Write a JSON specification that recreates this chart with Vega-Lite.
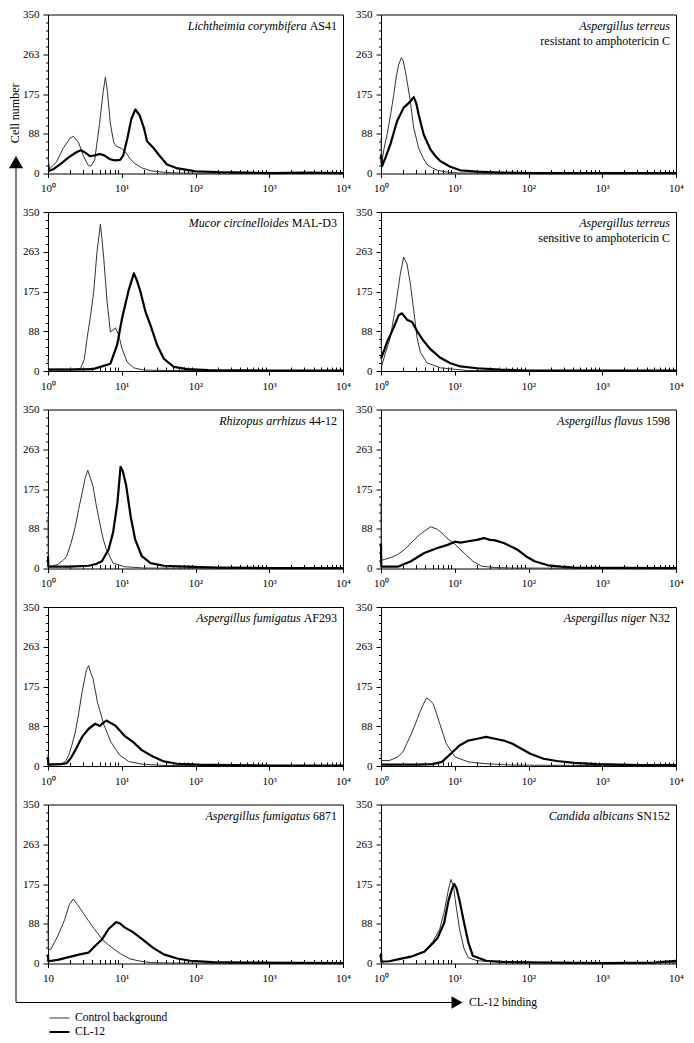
{
  "$schema": "https://vega.github.io/schema/vega-lite/v6.json",
  "background": "white",
  "padding": {"left": 0, "top": 7.5, "right": 0, "bottom": 0},
  "bounds": "flush",
  "spacing": 16,
  "datasets": {
    "titles": [
      {"p": 1, "it": "Lichtheimia corymbifera", "rg": "AS41"},
      {"p": 2, "it": "Aspergillus terreus", "rg": "resistant to amphotericin C"},
      {"p": 3, "it": "Mucor circinelloides", "rg": "MAL-D3"},
      {"p": 4, "it": "Aspergillus terreus", "rg": "sensitive to amphotericin C"},
      {"p": 5, "it": "Rhizopus arrhizus", "rg": "44-12"},
      {"p": 6, "it": "Aspergillus flavus", "rg": "1598"},
      {"p": 7, "it": "Aspergillus fumigatus", "rg": "AF293"},
      {"p": 8, "it": "Aspergillus niger", "rg": "N32"},
      {"p": 9, "it": "Aspergillus fumigatus", "rg": "6871"},
      {"p": 10, "it": "Candida albicans", "rg": "SN152"}
    ],
    "curves": [
      {"p":1,"s":"c","x":1,"y":34},{"p":1,"s":"c","x":1.05,"y":10},{"p":1,"s":"c","x":1.3,"y":25},{"p":1,"s":"c","x":1.6,"y":55},{"p":1,"s":"c","x":2.0,"y":78},{"p":1,"s":"c","x":2.2,"y":82},{"p":1,"s":"c","x":2.6,"y":68},{"p":1,"s":"c","x":3.0,"y":40},{"p":1,"s":"c","x":3.5,"y":18},{"p":1,"s":"c","x":3.8,"y":16},{"p":1,"s":"c","x":4.3,"y":30},{"p":1,"s":"c","x":5.0,"y":110},{"p":1,"s":"c","x":5.6,"y":180},{"p":1,"s":"c","x":6.0,"y":212},{"p":1,"s":"c","x":6.4,"y":180},{"p":1,"s":"c","x":7.0,"y":110},{"p":1,"s":"c","x":7.8,"y":68},{"p":1,"s":"c","x":8.5,"y":60},{"p":1,"s":"c","x":10,"y":55},{"p":1,"s":"c","x":11.5,"y":45},{"p":1,"s":"c","x":13,"y":32},{"p":1,"s":"c","x":15,"y":22},{"p":1,"s":"c","x":19,"y":12},{"p":1,"s":"c","x":25,"y":6},{"p":1,"s":"c","x":35,"y":3},{"p":1,"s":"c","x":60,"y":1},{"p":1,"s":"c","x":10000,"y":0},
      {"p":1,"s":"k","x":1,"y":5},{"p":1,"s":"k","x":1.2,"y":10},{"p":1,"s":"k","x":1.5,"y":22},{"p":1,"s":"k","x":2.0,"y":38},{"p":1,"s":"k","x":2.5,"y":48},{"p":1,"s":"k","x":2.8,"y":51},{"p":1,"s":"k","x":3.2,"y":46},{"p":1,"s":"k","x":3.7,"y":38},{"p":1,"s":"k","x":4.3,"y":40},{"p":1,"s":"k","x":5.0,"y":43},{"p":1,"s":"k","x":5.8,"y":40},{"p":1,"s":"k","x":6.8,"y":32},{"p":1,"s":"k","x":8.0,"y":29},{"p":1,"s":"k","x":9.5,"y":30},{"p":1,"s":"k","x":10.5,"y":40},{"p":1,"s":"k","x":12,"y":80},{"p":1,"s":"k","x":13.5,"y":120},{"p":1,"s":"k","x":15.3,"y":141},{"p":1,"s":"k","x":17.5,"y":128},{"p":1,"s":"k","x":20,"y":100},{"p":1,"s":"k","x":22,"y":71},{"p":1,"s":"k","x":27,"y":56},{"p":1,"s":"k","x":33,"y":38},{"p":1,"s":"k","x":41,"y":20},{"p":1,"s":"k","x":55,"y":12},{"p":1,"s":"k","x":77,"y":8},{"p":1,"s":"k","x":100,"y":5},{"p":1,"s":"k","x":200,"y":3},{"p":1,"s":"k","x":500,"y":2},{"p":1,"s":"k","x":1000,"y":1},{"p":1,"s":"k","x":3000,"y":2},{"p":1,"s":"k","x":10000,"y":1},
      {"p":2,"s":"c","x":1,"y":78},{"p":2,"s":"c","x":1.02,"y":20},{"p":2,"s":"c","x":1.1,"y":55},{"p":2,"s":"c","x":1.21,"y":86},{"p":2,"s":"c","x":1.35,"y":130},{"p":2,"s":"c","x":1.49,"y":174},{"p":2,"s":"c","x":1.62,"y":215},{"p":2,"s":"c","x":1.74,"y":240},{"p":2,"s":"c","x":1.89,"y":255},{"p":2,"s":"c","x":2.0,"y":248},{"p":2,"s":"c","x":2.14,"y":225},{"p":2,"s":"c","x":2.3,"y":195},{"p":2,"s":"c","x":2.5,"y":159},{"p":2,"s":"c","x":2.78,"y":100},{"p":2,"s":"c","x":3.24,"y":56},{"p":2,"s":"c","x":3.7,"y":35},{"p":2,"s":"c","x":4.2,"y":20},{"p":2,"s":"c","x":5.0,"y":12},{"p":2,"s":"c","x":5.8,"y":7},{"p":2,"s":"c","x":7.9,"y":3},{"p":2,"s":"c","x":12,"y":1},{"p":2,"s":"c","x":10000,"y":0},
      {"p":2,"s":"k","x":1,"y":42},{"p":2,"s":"k","x":1.03,"y":16},{"p":2,"s":"k","x":1.15,"y":35},{"p":2,"s":"k","x":1.34,"y":64},{"p":2,"s":"k","x":1.5,"y":92},{"p":2,"s":"k","x":1.65,"y":115},{"p":2,"s":"k","x":2.03,"y":145},{"p":2,"s":"k","x":2.37,"y":155},{"p":2,"s":"k","x":2.6,"y":162},{"p":2,"s":"k","x":2.78,"y":168},{"p":2,"s":"k","x":3.0,"y":155},{"p":2,"s":"k","x":3.24,"y":130},{"p":2,"s":"k","x":3.5,"y":108},{"p":2,"s":"k","x":3.79,"y":86},{"p":2,"s":"k","x":4.67,"y":53},{"p":2,"s":"k","x":5.5,"y":38},{"p":2,"s":"k","x":6.4,"y":27},{"p":2,"s":"k","x":8.7,"y":15},{"p":2,"s":"k","x":11.9,"y":7},{"p":2,"s":"k","x":20,"y":4},{"p":2,"s":"k","x":42,"y":2},{"p":2,"s":"k","x":100,"y":1},{"p":2,"s":"k","x":10000,"y":1},
      {"p":3,"s":"c","x":1,"y":27},{"p":3,"s":"c","x":1.02,"y":4},{"p":3,"s":"c","x":1.5,"y":4},{"p":3,"s":"c","x":2.0,"y":4},{"p":3,"s":"c","x":2.75,"y":5},{"p":3,"s":"c","x":3.1,"y":25},{"p":3,"s":"c","x":3.38,"y":71},{"p":3,"s":"c","x":3.8,"y":125},{"p":3,"s":"c","x":4.17,"y":175},{"p":3,"s":"c","x":4.62,"y":263},{"p":3,"s":"c","x":5.13,"y":323},{"p":3,"s":"c","x":5.4,"y":290},{"p":3,"s":"c","x":5.7,"y":248},{"p":3,"s":"c","x":6.32,"y":153},{"p":3,"s":"c","x":7.02,"y":86},{"p":3,"s":"c","x":7.6,"y":90},{"p":3,"s":"c","x":8.2,"y":95},{"p":3,"s":"c","x":9.1,"y":79},{"p":3,"s":"c","x":10.1,"y":49},{"p":3,"s":"c","x":11.8,"y":20},{"p":3,"s":"c","x":14.5,"y":7},{"p":3,"s":"c","x":20,"y":2},{"p":3,"s":"c","x":40,"y":1},{"p":3,"s":"c","x":10000,"y":0},
      {"p":3,"s":"k","x":1,"y":3},{"p":3,"s":"k","x":2,"y":3},{"p":3,"s":"k","x":4,"y":4},{"p":3,"s":"k","x":5.13,"y":9},{"p":3,"s":"k","x":7.02,"y":16},{"p":3,"s":"k","x":8.64,"y":57},{"p":3,"s":"k","x":10.1,"y":116},{"p":3,"s":"k","x":12.4,"y":178},{"p":3,"s":"k","x":14.6,"y":215},{"p":3,"s":"k","x":16,"y":200},{"p":3,"s":"k","x":17.9,"y":175},{"p":3,"s":"k","x":21,"y":130},{"p":3,"s":"k","x":24.5,"y":101},{"p":3,"s":"k","x":30.2,"y":57},{"p":3,"s":"k","x":37.2,"y":27},{"p":3,"s":"k","x":50.8,"y":9},{"p":3,"s":"k","x":77,"y":4},{"p":3,"s":"k","x":150,"y":2},{"p":3,"s":"k","x":1000,"y":1},{"p":3,"s":"k","x":10000,"y":1},
      {"p":4,"s":"c","x":1,"y":81},{"p":4,"s":"c","x":1.02,"y":11},{"p":4,"s":"c","x":1.15,"y":40},{"p":4,"s":"c","x":1.34,"y":74},{"p":4,"s":"c","x":1.57,"y":140},{"p":4,"s":"c","x":1.83,"y":214},{"p":4,"s":"c","x":2.03,"y":251},{"p":4,"s":"c","x":2.25,"y":236},{"p":4,"s":"c","x":2.5,"y":192},{"p":4,"s":"c","x":2.78,"y":133},{"p":4,"s":"c","x":3.08,"y":74},{"p":4,"s":"c","x":3.42,"y":41},{"p":4,"s":"c","x":4.21,"y":18},{"p":4,"s":"c","x":6.4,"y":7},{"p":4,"s":"c","x":9.7,"y":4},{"p":4,"s":"c","x":15,"y":1},{"p":4,"s":"c","x":10000,"y":0},
      {"p":4,"s":"k","x":1,"y":27},{"p":4,"s":"k","x":1.1,"y":45},{"p":4,"s":"k","x":1.21,"y":64},{"p":4,"s":"k","x":1.49,"y":96},{"p":4,"s":"k","x":1.74,"y":123},{"p":4,"s":"k","x":1.93,"y":127},{"p":4,"s":"k","x":2.25,"y":113},{"p":4,"s":"k","x":2.64,"y":108},{"p":4,"s":"k","x":3.08,"y":88},{"p":4,"s":"k","x":3.79,"y":66},{"p":4,"s":"k","x":4.67,"y":48},{"p":4,"s":"k","x":6.39,"y":29},{"p":4,"s":"k","x":8.73,"y":17},{"p":4,"s":"k","x":11.9,"y":10},{"p":4,"s":"k","x":20,"y":6},{"p":4,"s":"k","x":41.7,"y":3},{"p":4,"s":"k","x":96,"y":1},{"p":4,"s":"k","x":10000,"y":1},
      {"p":5,"s":"c","x":1,"y":115},{"p":5,"s":"c","x":1.01,"y":5},{"p":5,"s":"c","x":1.15,"y":5},{"p":5,"s":"c","x":1.36,"y":9},{"p":5,"s":"c","x":1.6,"y":18},{"p":5,"s":"c","x":1.79,"y":27},{"p":5,"s":"c","x":2.05,"y":55},{"p":5,"s":"c","x":2.35,"y":93},{"p":5,"s":"c","x":2.6,"y":130},{"p":5,"s":"c","x":2.9,"y":166},{"p":5,"s":"c","x":3.2,"y":200},{"p":5,"s":"c","x":3.46,"y":216},{"p":5,"s":"c","x":3.75,"y":200},{"p":5,"s":"c","x":4.09,"y":180},{"p":5,"s":"c","x":4.5,"y":140},{"p":5,"s":"c","x":5.03,"y":100},{"p":5,"s":"c","x":5.6,"y":65},{"p":5,"s":"c","x":6.19,"y":42},{"p":5,"s":"c","x":7.62,"y":12},{"p":5,"s":"c","x":10.8,"y":4},{"p":5,"s":"c","x":20,"y":1},{"p":5,"s":"c","x":10000,"y":0},
      {"p":5,"s":"k","x":1,"y":27},{"p":5,"s":"k","x":1.01,"y":4},{"p":5,"s":"k","x":2,"y":4},{"p":5,"s":"k","x":3.56,"y":6},{"p":5,"s":"k","x":4.5,"y":10},{"p":5,"s":"k","x":5.39,"y":16},{"p":5,"s":"k","x":6.63,"y":42},{"p":5,"s":"k","x":7.62,"y":79},{"p":5,"s":"k","x":8.74,"y":145},{"p":5,"s":"k","x":9.63,"y":224},{"p":5,"s":"k","x":10.3,"y":215},{"p":5,"s":"k","x":11.5,"y":182},{"p":5,"s":"k","x":13.2,"y":115},{"p":5,"s":"k","x":15.2,"y":64},{"p":5,"s":"k","x":18.7,"y":27},{"p":5,"s":"k","x":24.6,"y":12},{"p":5,"s":"k","x":37.2,"y":6},{"p":5,"s":"k","x":74,"y":4},{"p":5,"s":"k","x":200,"y":2},{"p":5,"s":"k","x":1000,"y":1},{"p":5,"s":"k","x":10000,"y":1},
      {"p":6,"s":"c","x":1,"y":145},{"p":6,"s":"c","x":1.01,"y":18},{"p":6,"s":"c","x":1.12,"y":20},{"p":6,"s":"c","x":1.4,"y":25},{"p":6,"s":"c","x":1.69,"y":31},{"p":6,"s":"c","x":2.1,"y":42},{"p":6,"s":"c","x":2.55,"y":56},{"p":6,"s":"c","x":3.2,"y":72},{"p":6,"s":"c","x":3.86,"y":82},{"p":6,"s":"c","x":4.75,"y":92},{"p":6,"s":"c","x":5.84,"y":86},{"p":6,"s":"c","x":6.7,"y":78},{"p":6,"s":"c","x":7.69,"y":68},{"p":6,"s":"c","x":10.1,"y":53},{"p":6,"s":"c","x":13.4,"y":34},{"p":6,"s":"c","x":17.6,"y":16},{"p":6,"s":"c","x":23.2,"y":5},{"p":6,"s":"c","x":35,"y":2},{"p":6,"s":"c","x":60,"y":1},{"p":6,"s":"c","x":10000,"y":0},
      {"p":6,"s":"k","x":1,"y":55},{"p":6,"s":"k","x":1.01,"y":4},{"p":6,"s":"k","x":1.69,"y":4},{"p":6,"s":"k","x":2.55,"y":16},{"p":6,"s":"k","x":3.86,"y":34},{"p":6,"s":"k","x":5.84,"y":45},{"p":6,"s":"k","x":8,"y":52},{"p":6,"s":"k","x":10.1,"y":59},{"p":6,"s":"k","x":12,"y":57},{"p":6,"s":"k","x":15.3,"y":60},{"p":6,"s":"k","x":20,"y":63},{"p":6,"s":"k","x":24.8,"y":67},{"p":6,"s":"k","x":30,"y":63},{"p":6,"s":"k","x":35.1,"y":62},{"p":6,"s":"k","x":46.2,"y":56},{"p":6,"s":"k","x":70,"y":42},{"p":6,"s":"k","x":92,"y":27},{"p":6,"s":"k","x":121,"y":16},{"p":6,"s":"k","x":183,"y":7},{"p":6,"s":"k","x":277,"y":4},{"p":6,"s":"k","x":420,"y":2},{"p":6,"s":"k","x":10000,"y":1},
      {"p":7,"s":"c","x":1,"y":26},{"p":7,"s":"c","x":1.01,"y":4},{"p":7,"s":"c","x":1.3,"y":4},{"p":7,"s":"c","x":1.56,"y":5},{"p":7,"s":"c","x":1.75,"y":12},{"p":7,"s":"c","x":1.91,"y":24},{"p":7,"s":"c","x":2.1,"y":45},{"p":7,"s":"c","x":2.35,"y":75},{"p":7,"s":"c","x":2.6,"y":115},{"p":7,"s":"c","x":2.9,"y":163},{"p":7,"s":"c","x":3.32,"y":211},{"p":7,"s":"c","x":3.56,"y":221},{"p":7,"s":"c","x":3.8,"y":205},{"p":7,"s":"c","x":4.09,"y":192},{"p":7,"s":"c","x":4.69,"y":140},{"p":7,"s":"c","x":5.78,"y":89},{"p":7,"s":"c","x":7.11,"y":53},{"p":7,"s":"c","x":9.37,"y":24},{"p":7,"s":"c","x":12.4,"y":10},{"p":7,"s":"c","x":18.7,"y":4},{"p":7,"s":"c","x":40,"y":1},{"p":7,"s":"c","x":10000,"y":0},
      {"p":7,"s":"k","x":1,"y":20},{"p":7,"s":"k","x":1.01,"y":3},{"p":7,"s":"k","x":1.5,"y":4},{"p":7,"s":"k","x":1.79,"y":6},{"p":7,"s":"k","x":2.05,"y":18},{"p":7,"s":"k","x":2.35,"y":35},{"p":7,"s":"k","x":2.9,"y":64},{"p":7,"s":"k","x":3.56,"y":82},{"p":7,"s":"k","x":4.38,"y":93},{"p":7,"s":"k","x":5.03,"y":88},{"p":7,"s":"k","x":5.6,"y":95},{"p":7,"s":"k","x":6.19,"y":100},{"p":7,"s":"k","x":7,"y":95},{"p":7,"s":"k","x":8.16,"y":89},{"p":7,"s":"k","x":10.8,"y":67},{"p":7,"s":"k","x":14.2,"y":53},{"p":7,"s":"k","x":18.7,"y":35},{"p":7,"s":"k","x":26.4,"y":21},{"p":7,"s":"k","x":37.2,"y":10},{"p":7,"s":"k","x":56,"y":5},{"p":7,"s":"k","x":112,"y":3},{"p":7,"s":"k","x":300,"y":2},{"p":7,"s":"k","x":1000,"y":1},{"p":7,"s":"k","x":10000,"y":1},
      {"p":8,"s":"c","x":1,"y":27},{"p":8,"s":"c","x":1.01,"y":12},{"p":8,"s":"c","x":1.3,"y":12},{"p":8,"s":"c","x":1.69,"y":20},{"p":8,"s":"c","x":2.0,"y":32},{"p":8,"s":"c","x":2.23,"y":49},{"p":8,"s":"c","x":2.6,"y":72},{"p":8,"s":"c","x":2.93,"y":93},{"p":8,"s":"c","x":3.3,"y":115},{"p":8,"s":"c","x":3.61,"y":130},{"p":8,"s":"c","x":4.14,"y":150},{"p":8,"s":"c","x":4.6,"y":145},{"p":8,"s":"c","x":5.09,"y":137},{"p":8,"s":"c","x":5.6,"y":118},{"p":8,"s":"c","x":6.26,"y":93},{"p":8,"s":"c","x":7.69,"y":49},{"p":8,"s":"c","x":10.1,"y":20},{"p":8,"s":"c","x":15.3,"y":9},{"p":8,"s":"c","x":26.6,"y":5},{"p":8,"s":"c","x":60,"y":2},{"p":8,"s":"c","x":10000,"y":0},
      {"p":8,"s":"k","x":1,"y":3},{"p":8,"s":"k","x":3,"y":3},{"p":8,"s":"k","x":5,"y":4},{"p":8,"s":"k","x":6.7,"y":9},{"p":8,"s":"k","x":8.83,"y":27},{"p":8,"s":"k","x":11.6,"y":45},{"p":8,"s":"k","x":15.3,"y":56},{"p":8,"s":"k","x":20.2,"y":60},{"p":8,"s":"k","x":26.6,"y":64},{"p":8,"s":"k","x":35.1,"y":60},{"p":8,"s":"k","x":46.2,"y":56},{"p":8,"s":"k","x":60.8,"y":49},{"p":8,"s":"k","x":80,"y":38},{"p":8,"s":"k","x":106,"y":27},{"p":8,"s":"k","x":160,"y":16},{"p":8,"s":"k","x":242,"y":11},{"p":8,"s":"k","x":420,"y":7},{"p":8,"s":"k","x":836,"y":4},{"p":8,"s":"k","x":3320,"y":2},{"p":8,"s":"k","x":10000,"y":2},
      {"p":9,"s":"c","x":1,"y":98},{"p":9,"s":"c","x":1.01,"y":30},{"p":9,"s":"c","x":1.1,"y":32},{"p":9,"s":"c","x":1.36,"y":61},{"p":9,"s":"c","x":1.67,"y":95},{"p":9,"s":"c","x":1.95,"y":130},{"p":9,"s":"c","x":2.2,"y":142},{"p":9,"s":"c","x":2.5,"y":130},{"p":9,"s":"c","x":2.9,"y":115},{"p":9,"s":"c","x":3.5,"y":95},{"p":9,"s":"c","x":4.3,"y":75},{"p":9,"s":"c","x":5.5,"y":52},{"p":9,"s":"c","x":7.2,"y":36},{"p":9,"s":"c","x":9.5,"y":22},{"p":9,"s":"c","x":13,"y":10},{"p":9,"s":"c","x":18,"y":5},{"p":9,"s":"c","x":25,"y":2},{"p":9,"s":"c","x":50,"y":1},{"p":9,"s":"c","x":10000,"y":0},
      {"p":9,"s":"k","x":1,"y":20},{"p":9,"s":"k","x":1.01,"y":5},{"p":9,"s":"k","x":1.36,"y":8},{"p":9,"s":"k","x":1.79,"y":13},{"p":9,"s":"k","x":2.7,"y":20},{"p":9,"s":"k","x":3.56,"y":24},{"p":9,"s":"k","x":4.38,"y":39},{"p":9,"s":"k","x":5.39,"y":53},{"p":9,"s":"k","x":6.63,"y":76},{"p":9,"s":"k","x":8.39,"y":91},{"p":9,"s":"k","x":9.5,"y":88},{"p":9,"s":"k","x":10.8,"y":80},{"p":9,"s":"k","x":14.2,"y":69},{"p":9,"s":"k","x":18.7,"y":54},{"p":9,"s":"k","x":26.4,"y":35},{"p":9,"s":"k","x":37.2,"y":20},{"p":9,"s":"k","x":56.4,"y":11},{"p":9,"s":"k","x":85,"y":6},{"p":9,"s":"k","x":170,"y":3},{"p":9,"s":"k","x":500,"y":2},{"p":9,"s":"k","x":10000,"y":1},
      {"p":10,"s":"c","x":1,"y":20},{"p":10,"s":"c","x":1.01,"y":4},{"p":10,"s":"c","x":1.3,"y":5},{"p":10,"s":"c","x":1.69,"y":9},{"p":10,"s":"c","x":2.55,"y":16},{"p":10,"s":"c","x":3.86,"y":27},{"p":10,"s":"c","x":5.09,"y":49},{"p":10,"s":"c","x":6.26,"y":76},{"p":10,"s":"c","x":7.18,"y":113},{"p":10,"s":"c","x":8.24,"y":164},{"p":10,"s":"c","x":8.9,"y":185},{"p":10,"s":"c","x":9.6,"y":170},{"p":10,"s":"c","x":10.1,"y":143},{"p":10,"s":"c","x":11.6,"y":76},{"p":10,"s":"c","x":13.4,"y":32},{"p":10,"s":"c","x":15.3,"y":13},{"p":10,"s":"c","x":20.2,"y":6},{"p":10,"s":"c","x":40,"y":3},{"p":10,"s":"c","x":100,"y":2},{"p":10,"s":"c","x":1000,"y":1},{"p":10,"s":"c","x":10000,"y":2},
      {"p":10,"s":"k","x":1,"y":22},{"p":10,"s":"k","x":1.01,"y":4},{"p":10,"s":"k","x":1.3,"y":5},{"p":10,"s":"k","x":1.69,"y":9},{"p":10,"s":"k","x":2.55,"y":15},{"p":10,"s":"k","x":3.86,"y":26},{"p":10,"s":"k","x":5.09,"y":45},{"p":10,"s":"k","x":5.84,"y":56},{"p":10,"s":"k","x":7.18,"y":89},{"p":10,"s":"k","x":8.24,"y":139},{"p":10,"s":"k","x":9.2,"y":165},{"p":10,"s":"k","x":9.86,"y":175},{"p":10,"s":"k","x":10.6,"y":165},{"p":10,"s":"k","x":11.6,"y":139},{"p":10,"s":"k","x":13.4,"y":89},{"p":10,"s":"k","x":15.3,"y":46},{"p":10,"s":"k","x":17.6,"y":17},{"p":10,"s":"k","x":26.6,"y":6},{"p":10,"s":"k","x":50,"y":3},{"p":10,"s":"k","x":200,"y":2},{"p":10,"s":"k","x":1000,"y":1},{"p":10,"s":"k","x":5000,"y":2},{"p":10,"s":"k","x":10000,"y":6}
    ]
  },
  "hconcat": [
    {
      "width": 32,
      "height": 988,
      "view": {"stroke": null},
      "data": {"values": [{}]},
      "layer": [
        {"mark": {"type": "rule", "color": "#000", "strokeWidth": 1},
         "encoding": {"x": {"datum": 0.5, "type": "quantitative", "scale": {"domain": [0, 1], "nice": false, "zero": false}, "axis": null},
                      "y": {"datum": 0, "type": "quantitative", "scale": {"domain": [0, 1], "nice": false}, "axis": null},
                      "y2": {"datum": 0.85}}},
        {"mark": {"type": "rule", "color": "#000", "strokeWidth": 1},
         "encoding": {"x": {"datum": 0.5, "type": "quantitative", "axis": null}, "x2": {"datum": 14.25},
                      "y": {"datum": 0, "type": "quantitative", "axis": null}}},
        {"mark": {"type": "point", "shape": "triangle-up", "size": 200, "filled": true, "color": "#000", "opacity": 1},
         "encoding": {"x": {"datum": 0.5, "type": "quantitative", "axis": null}, "y": {"datum": 0.8505, "type": "quantitative", "axis": null}}},
        {"mark": {"type": "point", "shape": "triangle-right", "size": 160, "filled": true, "color": "#000", "opacity": 1},
         "encoding": {"x": {"datum": 14.281, "type": "quantitative", "axis": null}, "y": {"datum": 0, "type": "quantitative", "axis": null}}},
        {"mark": {"type": "text", "text": "Cell number", "angle": 270, "fontSize": 12, "align": "center", "baseline": "middle", "font": "Liberation Serif", "color": "#000"},
         "encoding": {"x": {"datum": 0.47, "type": "quantitative", "axis": null}, "y": {"datum": 0.9, "type": "quantitative", "axis": null}}},
        {"mark": {"type": "text", "text": "CL-12 binding", "fontSize": 11.5, "align": "left", "baseline": "middle", "dx": 6, "font": "Liberation Serif", "color": "#000"},
         "encoding": {"x": {"datum": 14.469, "type": "quantitative", "axis": null}, "y": {"datum": 0, "type": "quantitative", "axis": null}}}
      ]
    },
    {
      "columns": 2,
      "spacing": {"row": 38.5, "column": 38},
      "bounds": "flush",
      "concat": [
        {"width":295,"height":159,"resolve":{"axis":{"x":"independent","y":"independent"}},"layer":[
          {"data":{"name":"curves"},"transform":[{"filter":"datum.p == 1"}],"mark":{"type":"line","strokeJoin":"round"},
           "encoding":{
            "x":{"field":"x","type":"quantitative","scale":{"type":"log","domain":[1,10000],"nice":false},"axis":{"orient":"bottom","title":null,"values":[1,10,100,1000,10000],"labelExpr":"'10' + ['⁰','¹','²','³','⁴'][round(log(datum.value)/LN10)]","tickSize":4,"labelPadding":5}},
            "y":{"field":"y","type":"quantitative","scale":{"domain":[0,350],"nice":false},"axis":{"orient":"left","title":null,"values":[0,87.5,175,262.5,350],"labelExpr":"round(datum.value)","tickSize":5,"labelPadding":4}},
            "color":{"field":"s","type":"nominal","scale":{"domain":["c","k"],"range":["#333333","#000000"]},"legend":{"orient":"none","legendX":48,"legendY":997.5,"title":null,"symbolType":"stroke","symbolSize":400,"labelFont":"Liberation Serif","labelFontSize":11.5,"labelColor":"#000","labelExpr":"datum.value == 'c' ? 'Control background' : 'CL-12'","clipHeight":12,"rowPadding":2,"labelOffset":4,"padding":0}},
            "strokeWidth":{"field":"s","type":"nominal","scale":{"domain":["c","k"],"range":[1,2.2]},"legend":{"orient":"none","legendX":48,"legendY":997.5,"title":null,"symbolType":"stroke","symbolSize":400,"labelFont":"Liberation Serif","labelFontSize":11.5,"labelColor":"#000","labelExpr":"datum.value == 'c' ? 'Control background' : 'CL-12'","clipHeight":12,"rowPadding":2,"labelOffset":4,"padding":0}}}},
          {"data":{"values":[{}]},"mark":{"type":"point","opacity":0},"encoding":{
            "x":{"datum":1,"type":"quantitative","axis":{"orient":"bottom","title":null,"values":[2,3,4,5,6,7,8,9,20,30,40,50,60,70,80,90,200,300,400,500,600,700,800,900,2000,3000,4000,5000,6000,7000,8000,9000],"labels":false,"tickSize":-4}},
            "y":{"datum":0,"type":"quantitative","axis":{"orient":"left","title":null,"values":[17.5,35,52.5,70,105,122.5,140,157.5,192.5,210,227.5,245,280,297.5,315,332.5],"labels":false,"tickSize":2.5}}}},
          {"data":{"name":"titles"},"transform":[{"filter":"datum.p == 1"}],"mark":{"type":"text","font":"Liberation Serif","fontStyle":"italic","fontSize":12,"align":"right","baseline":"alphabetic","dx":-36.3,"dy":15,"color":"#000"},
           "encoding":{"x":{"datum":10000,"type":"quantitative","axis":null},"y":{"datum":350,"type":"quantitative","axis":null},"text":{"field":"it"}}},
          {"data":{"name":"titles"},"transform":[{"filter":"datum.p == 1"}],"mark":{"type":"text","font":"Liberation Serif","fontSize":12,"align":"right","baseline":"alphabetic","dx":-6,"dy":15,"color":"#000"},
           "encoding":{"x":{"datum":10000,"type":"quantitative","axis":null},"y":{"datum":350,"type":"quantitative","axis":null},"text":{"field":"rg"}}}
        ]},
        {"width":295,"height":159,"resolve":{"axis":{"x":"independent","y":"independent"}},"layer":[
          {"data":{"name":"curves"},"transform":[{"filter":"datum.p == 2"}],"mark":{"type":"line","strokeJoin":"round"},
           "encoding":{
            "x":{"field":"x","type":"quantitative","scale":{"type":"log","domain":[1,10000],"nice":false},"axis":{"orient":"bottom","title":null,"values":[1,10,100,1000,10000],"labelExpr":"'10' + ['⁰','¹','²','³','⁴'][round(log(datum.value)/LN10)]","tickSize":4,"labelPadding":5}},
            "y":{"field":"y","type":"quantitative","scale":{"domain":[0,350],"nice":false},"axis":{"orient":"left","title":null,"values":[0,87.5,175,262.5,350],"labelExpr":"round(datum.value)","tickSize":5,"labelPadding":4}},
            "color":{"field":"s","type":"nominal","scale":{"domain":["c","k"],"range":["#333333","#000000"]},"legend":{"orient":"none","legendX":48,"legendY":997.5,"title":null,"symbolType":"stroke","symbolSize":400,"labelFont":"Liberation Serif","labelFontSize":11.5,"labelColor":"#000","labelExpr":"datum.value == 'c' ? 'Control background' : 'CL-12'","clipHeight":12,"rowPadding":2,"labelOffset":4,"padding":0}},
            "strokeWidth":{"field":"s","type":"nominal","scale":{"domain":["c","k"],"range":[1,2.2]},"legend":{"orient":"none","legendX":48,"legendY":997.5,"title":null,"symbolType":"stroke","symbolSize":400,"labelFont":"Liberation Serif","labelFontSize":11.5,"labelColor":"#000","labelExpr":"datum.value == 'c' ? 'Control background' : 'CL-12'","clipHeight":12,"rowPadding":2,"labelOffset":4,"padding":0}}}},
          {"data":{"values":[{}]},"mark":{"type":"point","opacity":0},"encoding":{
            "x":{"datum":1,"type":"quantitative","axis":{"orient":"bottom","title":null,"values":[2,3,4,5,6,7,8,9,20,30,40,50,60,70,80,90,200,300,400,500,600,700,800,900,2000,3000,4000,5000,6000,7000,8000,9000],"labels":false,"tickSize":-4}},
            "y":{"datum":0,"type":"quantitative","axis":{"orient":"left","title":null,"values":[17.5,35,52.5,70,105,122.5,140,157.5,192.5,210,227.5,245,280,297.5,315,332.5],"labels":false,"tickSize":2.5}}}},
          {"data":{"name":"titles"},"transform":[{"filter":"datum.p == 2"}],"mark":{"type":"text","font":"Liberation Serif","fontStyle":"italic","fontSize":12,"align":"right","baseline":"alphabetic","dx":-6,"dy":15,"color":"#000"},
           "encoding":{"x":{"datum":10000,"type":"quantitative","axis":null},"y":{"datum":350,"type":"quantitative","axis":null},"text":{"field":"it"}}},
          {"data":{"name":"titles"},"transform":[{"filter":"datum.p == 2"}],"mark":{"type":"text","font":"Liberation Serif","fontSize":12,"align":"right","baseline":"alphabetic","dx":-6,"dy":30,"color":"#000"},
           "encoding":{"x":{"datum":10000,"type":"quantitative","axis":null},"y":{"datum":350,"type":"quantitative","axis":null},"text":{"field":"rg"}}}
        ]},
        {"width":295,"height":159,"resolve":{"axis":{"x":"independent","y":"independent"}},"layer":[
          {"data":{"name":"curves"},"transform":[{"filter":"datum.p == 3"}],"mark":{"type":"line","strokeJoin":"round"},
           "encoding":{
            "x":{"field":"x","type":"quantitative","scale":{"type":"log","domain":[1,10000],"nice":false},"axis":{"orient":"bottom","title":null,"values":[1,10,100,1000,10000],"labelExpr":"'10' + ['⁰','¹','²','³','⁴'][round(log(datum.value)/LN10)]","tickSize":4,"labelPadding":5}},
            "y":{"field":"y","type":"quantitative","scale":{"domain":[0,350],"nice":false},"axis":{"orient":"left","title":null,"values":[0,87.5,175,262.5,350],"labelExpr":"round(datum.value)","tickSize":5,"labelPadding":4}},
            "color":{"field":"s","type":"nominal","scale":{"domain":["c","k"],"range":["#333333","#000000"]},"legend":{"orient":"none","legendX":48,"legendY":997.5,"title":null,"symbolType":"stroke","symbolSize":400,"labelFont":"Liberation Serif","labelFontSize":11.5,"labelColor":"#000","labelExpr":"datum.value == 'c' ? 'Control background' : 'CL-12'","clipHeight":12,"rowPadding":2,"labelOffset":4,"padding":0}},
            "strokeWidth":{"field":"s","type":"nominal","scale":{"domain":["c","k"],"range":[1,2.2]},"legend":{"orient":"none","legendX":48,"legendY":997.5,"title":null,"symbolType":"stroke","symbolSize":400,"labelFont":"Liberation Serif","labelFontSize":11.5,"labelColor":"#000","labelExpr":"datum.value == 'c' ? 'Control background' : 'CL-12'","clipHeight":12,"rowPadding":2,"labelOffset":4,"padding":0}}}},
          {"data":{"values":[{}]},"mark":{"type":"point","opacity":0},"encoding":{
            "x":{"datum":1,"type":"quantitative","axis":{"orient":"bottom","title":null,"values":[2,3,4,5,6,7,8,9,20,30,40,50,60,70,80,90,200,300,400,500,600,700,800,900,2000,3000,4000,5000,6000,7000,8000,9000],"labels":false,"tickSize":-4}},
            "y":{"datum":0,"type":"quantitative","axis":{"orient":"left","title":null,"values":[17.5,35,52.5,70,105,122.5,140,157.5,192.5,210,227.5,245,280,297.5,315,332.5],"labels":false,"tickSize":2.5}}}},
          {"data":{"name":"titles"},"transform":[{"filter":"datum.p == 3"}],"mark":{"type":"text","font":"Liberation Serif","fontStyle":"italic","fontSize":12,"align":"right","baseline":"alphabetic","dx":-54.3,"dy":15,"color":"#000"},
           "encoding":{"x":{"datum":10000,"type":"quantitative","axis":null},"y":{"datum":350,"type":"quantitative","axis":null},"text":{"field":"it"}}},
          {"data":{"name":"titles"},"transform":[{"filter":"datum.p == 3"}],"mark":{"type":"text","font":"Liberation Serif","fontSize":12,"align":"right","baseline":"alphabetic","dx":-6,"dy":15,"color":"#000"},
           "encoding":{"x":{"datum":10000,"type":"quantitative","axis":null},"y":{"datum":350,"type":"quantitative","axis":null},"text":{"field":"rg"}}}
        ]},
        {"width":295,"height":159,"resolve":{"axis":{"x":"independent","y":"independent"}},"layer":[
          {"data":{"name":"curves"},"transform":[{"filter":"datum.p == 4"}],"mark":{"type":"line","strokeJoin":"round"},
           "encoding":{
            "x":{"field":"x","type":"quantitative","scale":{"type":"log","domain":[1,10000],"nice":false},"axis":{"orient":"bottom","title":null,"values":[1,10,100,1000,10000],"labelExpr":"'10' + ['⁰','¹','²','³','⁴'][round(log(datum.value)/LN10)]","tickSize":4,"labelPadding":5}},
            "y":{"field":"y","type":"quantitative","scale":{"domain":[0,350],"nice":false},"axis":{"orient":"left","title":null,"values":[0,87.5,175,262.5,350],"labelExpr":"round(datum.value)","tickSize":5,"labelPadding":4}},
            "color":{"field":"s","type":"nominal","scale":{"domain":["c","k"],"range":["#333333","#000000"]},"legend":{"orient":"none","legendX":48,"legendY":997.5,"title":null,"symbolType":"stroke","symbolSize":400,"labelFont":"Liberation Serif","labelFontSize":11.5,"labelColor":"#000","labelExpr":"datum.value == 'c' ? 'Control background' : 'CL-12'","clipHeight":12,"rowPadding":2,"labelOffset":4,"padding":0}},
            "strokeWidth":{"field":"s","type":"nominal","scale":{"domain":["c","k"],"range":[1,2.2]},"legend":{"orient":"none","legendX":48,"legendY":997.5,"title":null,"symbolType":"stroke","symbolSize":400,"labelFont":"Liberation Serif","labelFontSize":11.5,"labelColor":"#000","labelExpr":"datum.value == 'c' ? 'Control background' : 'CL-12'","clipHeight":12,"rowPadding":2,"labelOffset":4,"padding":0}}}},
          {"data":{"values":[{}]},"mark":{"type":"point","opacity":0},"encoding":{
            "x":{"datum":1,"type":"quantitative","axis":{"orient":"bottom","title":null,"values":[2,3,4,5,6,7,8,9,20,30,40,50,60,70,80,90,200,300,400,500,600,700,800,900,2000,3000,4000,5000,6000,7000,8000,9000],"labels":false,"tickSize":-4}},
            "y":{"datum":0,"type":"quantitative","axis":{"orient":"left","title":null,"values":[17.5,35,52.5,70,105,122.5,140,157.5,192.5,210,227.5,245,280,297.5,315,332.5],"labels":false,"tickSize":2.5}}}},
          {"data":{"name":"titles"},"transform":[{"filter":"datum.p == 4"}],"mark":{"type":"text","font":"Liberation Serif","fontStyle":"italic","fontSize":12,"align":"right","baseline":"alphabetic","dx":-6,"dy":15,"color":"#000"},
           "encoding":{"x":{"datum":10000,"type":"quantitative","axis":null},"y":{"datum":350,"type":"quantitative","axis":null},"text":{"field":"it"}}},
          {"data":{"name":"titles"},"transform":[{"filter":"datum.p == 4"}],"mark":{"type":"text","font":"Liberation Serif","fontSize":12,"align":"right","baseline":"alphabetic","dx":-6,"dy":30,"color":"#000"},
           "encoding":{"x":{"datum":10000,"type":"quantitative","axis":null},"y":{"datum":350,"type":"quantitative","axis":null},"text":{"field":"rg"}}}
        ]},
        {"width":295,"height":159,"resolve":{"axis":{"x":"independent","y":"independent"}},"layer":[
          {"data":{"name":"curves"},"transform":[{"filter":"datum.p == 5"}],"mark":{"type":"line","strokeJoin":"round"},
           "encoding":{
            "x":{"field":"x","type":"quantitative","scale":{"type":"log","domain":[1,10000],"nice":false},"axis":{"orient":"bottom","title":null,"values":[1,10,100,1000,10000],"labelExpr":"'10' + ['⁰','¹','²','³','⁴'][round(log(datum.value)/LN10)]","tickSize":4,"labelPadding":5}},
            "y":{"field":"y","type":"quantitative","scale":{"domain":[0,350],"nice":false},"axis":{"orient":"left","title":null,"values":[0,87.5,175,262.5,350],"labelExpr":"round(datum.value)","tickSize":5,"labelPadding":4}},
            "color":{"field":"s","type":"nominal","scale":{"domain":["c","k"],"range":["#333333","#000000"]},"legend":{"orient":"none","legendX":48,"legendY":997.5,"title":null,"symbolType":"stroke","symbolSize":400,"labelFont":"Liberation Serif","labelFontSize":11.5,"labelColor":"#000","labelExpr":"datum.value == 'c' ? 'Control background' : 'CL-12'","clipHeight":12,"rowPadding":2,"labelOffset":4,"padding":0}},
            "strokeWidth":{"field":"s","type":"nominal","scale":{"domain":["c","k"],"range":[1,2.2]},"legend":{"orient":"none","legendX":48,"legendY":997.5,"title":null,"symbolType":"stroke","symbolSize":400,"labelFont":"Liberation Serif","labelFontSize":11.5,"labelColor":"#000","labelExpr":"datum.value == 'c' ? 'Control background' : 'CL-12'","clipHeight":12,"rowPadding":2,"labelOffset":4,"padding":0}}}},
          {"data":{"values":[{}]},"mark":{"type":"point","opacity":0},"encoding":{
            "x":{"datum":1,"type":"quantitative","axis":{"orient":"bottom","title":null,"values":[2,3,4,5,6,7,8,9,20,30,40,50,60,70,80,90,200,300,400,500,600,700,800,900,2000,3000,4000,5000,6000,7000,8000,9000],"labels":false,"tickSize":-4}},
            "y":{"datum":0,"type":"quantitative","axis":{"orient":"left","title":null,"values":[17.5,35,52.5,70,105,122.5,140,157.5,192.5,210,227.5,245,280,297.5,315,332.5],"labels":false,"tickSize":2.5}}}},
          {"data":{"name":"titles"},"transform":[{"filter":"datum.p == 5"}],"mark":{"type":"text","font":"Liberation Serif","fontStyle":"italic","fontSize":12,"align":"right","baseline":"alphabetic","dx":-37,"dy":15,"color":"#000"},
           "encoding":{"x":{"datum":10000,"type":"quantitative","axis":null},"y":{"datum":350,"type":"quantitative","axis":null},"text":{"field":"it"}}},
          {"data":{"name":"titles"},"transform":[{"filter":"datum.p == 5"}],"mark":{"type":"text","font":"Liberation Serif","fontSize":12,"align":"right","baseline":"alphabetic","dx":-6,"dy":15,"color":"#000"},
           "encoding":{"x":{"datum":10000,"type":"quantitative","axis":null},"y":{"datum":350,"type":"quantitative","axis":null},"text":{"field":"rg"}}}
        ]},
        {"width":295,"height":159,"resolve":{"axis":{"x":"independent","y":"independent"}},"layer":[
          {"data":{"name":"curves"},"transform":[{"filter":"datum.p == 6"}],"mark":{"type":"line","strokeJoin":"round"},
           "encoding":{
            "x":{"field":"x","type":"quantitative","scale":{"type":"log","domain":[1,10000],"nice":false},"axis":{"orient":"bottom","title":null,"values":[1,10,100,1000,10000],"labelExpr":"'10' + ['⁰','¹','²','³','⁴'][round(log(datum.value)/LN10)]","tickSize":4,"labelPadding":5}},
            "y":{"field":"y","type":"quantitative","scale":{"domain":[0,350],"nice":false},"axis":{"orient":"left","title":null,"values":[0,87.5,175,262.5,350],"labelExpr":"round(datum.value)","tickSize":5,"labelPadding":4}},
            "color":{"field":"s","type":"nominal","scale":{"domain":["c","k"],"range":["#333333","#000000"]},"legend":{"orient":"none","legendX":48,"legendY":997.5,"title":null,"symbolType":"stroke","symbolSize":400,"labelFont":"Liberation Serif","labelFontSize":11.5,"labelColor":"#000","labelExpr":"datum.value == 'c' ? 'Control background' : 'CL-12'","clipHeight":12,"rowPadding":2,"labelOffset":4,"padding":0}},
            "strokeWidth":{"field":"s","type":"nominal","scale":{"domain":["c","k"],"range":[1,2.2]},"legend":{"orient":"none","legendX":48,"legendY":997.5,"title":null,"symbolType":"stroke","symbolSize":400,"labelFont":"Liberation Serif","labelFontSize":11.5,"labelColor":"#000","labelExpr":"datum.value == 'c' ? 'Control background' : 'CL-12'","clipHeight":12,"rowPadding":2,"labelOffset":4,"padding":0}}}},
          {"data":{"values":[{}]},"mark":{"type":"point","opacity":0},"encoding":{
            "x":{"datum":1,"type":"quantitative","axis":{"orient":"bottom","title":null,"values":[2,3,4,5,6,7,8,9,20,30,40,50,60,70,80,90,200,300,400,500,600,700,800,900,2000,3000,4000,5000,6000,7000,8000,9000],"labels":false,"tickSize":-4}},
            "y":{"datum":0,"type":"quantitative","axis":{"orient":"left","title":null,"values":[17.5,35,52.5,70,105,122.5,140,157.5,192.5,210,227.5,245,280,297.5,315,332.5],"labels":false,"tickSize":2.5}}}},
          {"data":{"name":"titles"},"transform":[{"filter":"datum.p == 6"}],"mark":{"type":"text","font":"Liberation Serif","fontStyle":"italic","fontSize":12,"align":"right","baseline":"alphabetic","dx":-33,"dy":15,"color":"#000"},
           "encoding":{"x":{"datum":10000,"type":"quantitative","axis":null},"y":{"datum":350,"type":"quantitative","axis":null},"text":{"field":"it"}}},
          {"data":{"name":"titles"},"transform":[{"filter":"datum.p == 6"}],"mark":{"type":"text","font":"Liberation Serif","fontSize":12,"align":"right","baseline":"alphabetic","dx":-6,"dy":15,"color":"#000"},
           "encoding":{"x":{"datum":10000,"type":"quantitative","axis":null},"y":{"datum":350,"type":"quantitative","axis":null},"text":{"field":"rg"}}}
        ]},
        {"width":295,"height":159,"resolve":{"axis":{"x":"independent","y":"independent"}},"layer":[
          {"data":{"name":"curves"},"transform":[{"filter":"datum.p == 7"}],"mark":{"type":"line","strokeJoin":"round"},
           "encoding":{
            "x":{"field":"x","type":"quantitative","scale":{"type":"log","domain":[1,10000],"nice":false},"axis":{"orient":"bottom","title":null,"values":[1,10,100,1000,10000],"labelExpr":"'10' + ['⁰','¹','²','³','⁴'][round(log(datum.value)/LN10)]","tickSize":4,"labelPadding":5}},
            "y":{"field":"y","type":"quantitative","scale":{"domain":[0,350],"nice":false},"axis":{"orient":"left","title":null,"values":[0,87.5,175,262.5,350],"labelExpr":"round(datum.value)","tickSize":5,"labelPadding":4}},
            "color":{"field":"s","type":"nominal","scale":{"domain":["c","k"],"range":["#333333","#000000"]},"legend":{"orient":"none","legendX":48,"legendY":997.5,"title":null,"symbolType":"stroke","symbolSize":400,"labelFont":"Liberation Serif","labelFontSize":11.5,"labelColor":"#000","labelExpr":"datum.value == 'c' ? 'Control background' : 'CL-12'","clipHeight":12,"rowPadding":2,"labelOffset":4,"padding":0}},
            "strokeWidth":{"field":"s","type":"nominal","scale":{"domain":["c","k"],"range":[1,2.2]},"legend":{"orient":"none","legendX":48,"legendY":997.5,"title":null,"symbolType":"stroke","symbolSize":400,"labelFont":"Liberation Serif","labelFontSize":11.5,"labelColor":"#000","labelExpr":"datum.value == 'c' ? 'Control background' : 'CL-12'","clipHeight":12,"rowPadding":2,"labelOffset":4,"padding":0}}}},
          {"data":{"values":[{}]},"mark":{"type":"point","opacity":0},"encoding":{
            "x":{"datum":1,"type":"quantitative","axis":{"orient":"bottom","title":null,"values":[2,3,4,5,6,7,8,9,20,30,40,50,60,70,80,90,200,300,400,500,600,700,800,900,2000,3000,4000,5000,6000,7000,8000,9000],"labels":false,"tickSize":-4}},
            "y":{"datum":0,"type":"quantitative","axis":{"orient":"left","title":null,"values":[17.5,35,52.5,70,105,122.5,140,157.5,192.5,210,227.5,245,280,297.5,315,332.5],"labels":false,"tickSize":2.5}}}},
          {"data":{"name":"titles"},"transform":[{"filter":"datum.p == 7"}],"mark":{"type":"text","font":"Liberation Serif","fontStyle":"italic","fontSize":12,"align":"right","baseline":"alphabetic","dx":-42.3,"dy":15,"color":"#000"},
           "encoding":{"x":{"datum":10000,"type":"quantitative","axis":null},"y":{"datum":350,"type":"quantitative","axis":null},"text":{"field":"it"}}},
          {"data":{"name":"titles"},"transform":[{"filter":"datum.p == 7"}],"mark":{"type":"text","font":"Liberation Serif","fontSize":12,"align":"right","baseline":"alphabetic","dx":-6,"dy":15,"color":"#000"},
           "encoding":{"x":{"datum":10000,"type":"quantitative","axis":null},"y":{"datum":350,"type":"quantitative","axis":null},"text":{"field":"rg"}}}
        ]},
        {"width":295,"height":159,"resolve":{"axis":{"x":"independent","y":"independent"}},"layer":[
          {"data":{"name":"curves"},"transform":[{"filter":"datum.p == 8"}],"mark":{"type":"line","strokeJoin":"round"},
           "encoding":{
            "x":{"field":"x","type":"quantitative","scale":{"type":"log","domain":[1,10000],"nice":false},"axis":{"orient":"bottom","title":null,"values":[1,10,100,1000,10000],"labelExpr":"'10' + ['⁰','¹','²','³','⁴'][round(log(datum.value)/LN10)]","tickSize":4,"labelPadding":5}},
            "y":{"field":"y","type":"quantitative","scale":{"domain":[0,350],"nice":false},"axis":{"orient":"left","title":null,"values":[0,87.5,175,262.5,350],"labelExpr":"round(datum.value)","tickSize":5,"labelPadding":4}},
            "color":{"field":"s","type":"nominal","scale":{"domain":["c","k"],"range":["#333333","#000000"]},"legend":{"orient":"none","legendX":48,"legendY":997.5,"title":null,"symbolType":"stroke","symbolSize":400,"labelFont":"Liberation Serif","labelFontSize":11.5,"labelColor":"#000","labelExpr":"datum.value == 'c' ? 'Control background' : 'CL-12'","clipHeight":12,"rowPadding":2,"labelOffset":4,"padding":0}},
            "strokeWidth":{"field":"s","type":"nominal","scale":{"domain":["c","k"],"range":[1,2.2]},"legend":{"orient":"none","legendX":48,"legendY":997.5,"title":null,"symbolType":"stroke","symbolSize":400,"labelFont":"Liberation Serif","labelFontSize":11.5,"labelColor":"#000","labelExpr":"datum.value == 'c' ? 'Control background' : 'CL-12'","clipHeight":12,"rowPadding":2,"labelOffset":4,"padding":0}}}},
          {"data":{"values":[{}]},"mark":{"type":"point","opacity":0},"encoding":{
            "x":{"datum":1,"type":"quantitative","axis":{"orient":"bottom","title":null,"values":[2,3,4,5,6,7,8,9,20,30,40,50,60,70,80,90,200,300,400,500,600,700,800,900,2000,3000,4000,5000,6000,7000,8000,9000],"labels":false,"tickSize":-4}},
            "y":{"datum":0,"type":"quantitative","axis":{"orient":"left","title":null,"values":[17.5,35,52.5,70,105,122.5,140,157.5,192.5,210,227.5,245,280,297.5,315,332.5],"labels":false,"tickSize":2.5}}}},
          {"data":{"name":"titles"},"transform":[{"filter":"datum.p == 8"}],"mark":{"type":"text","font":"Liberation Serif","fontStyle":"italic","fontSize":12,"align":"right","baseline":"alphabetic","dx":-29.7,"dy":15,"color":"#000"},
           "encoding":{"x":{"datum":10000,"type":"quantitative","axis":null},"y":{"datum":350,"type":"quantitative","axis":null},"text":{"field":"it"}}},
          {"data":{"name":"titles"},"transform":[{"filter":"datum.p == 8"}],"mark":{"type":"text","font":"Liberation Serif","fontSize":12,"align":"right","baseline":"alphabetic","dx":-6,"dy":15,"color":"#000"},
           "encoding":{"x":{"datum":10000,"type":"quantitative","axis":null},"y":{"datum":350,"type":"quantitative","axis":null},"text":{"field":"rg"}}}
        ]},
        {"width":295,"height":159,"resolve":{"axis":{"x":"independent","y":"independent"}},"layer":[
          {"data":{"name":"curves"},"transform":[{"filter":"datum.p == 9"}],"mark":{"type":"line","strokeJoin":"round"},
           "encoding":{
            "x":{"field":"x","type":"quantitative","scale":{"type":"log","domain":[1,10000],"nice":false},"axis":{"orient":"bottom","title":null,"values":[1,10,100,1000,10000],"labelExpr":"datum.value == 1 ? '10' : '10' + ['⁰','¹','²','³','⁴'][round(log(datum.value)/LN10)]","tickSize":4,"labelPadding":5}},
            "y":{"field":"y","type":"quantitative","scale":{"domain":[0,350],"nice":false},"axis":{"orient":"left","title":null,"values":[0,87.5,175,262.5,350],"labelExpr":"round(datum.value)","tickSize":5,"labelPadding":4}},
            "color":{"field":"s","type":"nominal","scale":{"domain":["c","k"],"range":["#333333","#000000"]},"legend":{"orient":"none","legendX":48,"legendY":997.5,"title":null,"symbolType":"stroke","symbolSize":400,"labelFont":"Liberation Serif","labelFontSize":11.5,"labelColor":"#000","labelExpr":"datum.value == 'c' ? 'Control background' : 'CL-12'","clipHeight":12,"rowPadding":2,"labelOffset":4,"padding":0}},
            "strokeWidth":{"field":"s","type":"nominal","scale":{"domain":["c","k"],"range":[1,2.2]},"legend":{"orient":"none","legendX":48,"legendY":997.5,"title":null,"symbolType":"stroke","symbolSize":400,"labelFont":"Liberation Serif","labelFontSize":11.5,"labelColor":"#000","labelExpr":"datum.value == 'c' ? 'Control background' : 'CL-12'","clipHeight":12,"rowPadding":2,"labelOffset":4,"padding":0}}}},
          {"data":{"values":[{}]},"mark":{"type":"point","opacity":0},"encoding":{
            "x":{"datum":1,"type":"quantitative","axis":{"orient":"bottom","title":null,"values":[2,3,4,5,6,7,8,9,20,30,40,50,60,70,80,90,200,300,400,500,600,700,800,900,2000,3000,4000,5000,6000,7000,8000,9000],"labels":false,"tickSize":-4}},
            "y":{"datum":0,"type":"quantitative","axis":{"orient":"left","title":null,"values":[17.5,35,52.5,70,105,122.5,140,157.5,192.5,210,227.5,245,280,297.5,315,332.5],"labels":false,"tickSize":2.5}}}},
          {"data":{"name":"titles"},"transform":[{"filter":"datum.p == 9"}],"mark":{"type":"text","font":"Liberation Serif","fontStyle":"italic","fontSize":12,"align":"right","baseline":"alphabetic","dx":-33,"dy":15,"color":"#000"},
           "encoding":{"x":{"datum":10000,"type":"quantitative","axis":null},"y":{"datum":350,"type":"quantitative","axis":null},"text":{"field":"it"}}},
          {"data":{"name":"titles"},"transform":[{"filter":"datum.p == 9"}],"mark":{"type":"text","font":"Liberation Serif","fontSize":12,"align":"right","baseline":"alphabetic","dx":-6,"dy":15,"color":"#000"},
           "encoding":{"x":{"datum":10000,"type":"quantitative","axis":null},"y":{"datum":350,"type":"quantitative","axis":null},"text":{"field":"rg"}}}
        ]},
        {"width":295,"height":159,"resolve":{"axis":{"x":"independent","y":"independent"}},"layer":[
          {"data":{"name":"curves"},"transform":[{"filter":"datum.p == 10"}],"mark":{"type":"line","strokeJoin":"round"},
           "encoding":{
            "x":{"field":"x","type":"quantitative","scale":{"type":"log","domain":[1,10000],"nice":false},"axis":{"orient":"bottom","title":null,"values":[1,10,100,1000,10000],"labelExpr":"'10' + ['⁰','¹','²','³','⁴'][round(log(datum.value)/LN10)]","tickSize":4,"labelPadding":5}},
            "y":{"field":"y","type":"quantitative","scale":{"domain":[0,350],"nice":false},"axis":{"orient":"left","title":null,"values":[0,87.5,175,262.5,350],"labelExpr":"round(datum.value)","tickSize":5,"labelPadding":4}},
            "color":{"field":"s","type":"nominal","scale":{"domain":["c","k"],"range":["#333333","#000000"]},"legend":{"orient":"none","legendX":48,"legendY":997.5,"title":null,"symbolType":"stroke","symbolSize":400,"labelFont":"Liberation Serif","labelFontSize":11.5,"labelColor":"#000","labelExpr":"datum.value == 'c' ? 'Control background' : 'CL-12'","clipHeight":12,"rowPadding":2,"labelOffset":4,"padding":0}},
            "strokeWidth":{"field":"s","type":"nominal","scale":{"domain":["c","k"],"range":[1,2.2]},"legend":{"orient":"none","legendX":48,"legendY":997.5,"title":null,"symbolType":"stroke","symbolSize":400,"labelFont":"Liberation Serif","labelFontSize":11.5,"labelColor":"#000","labelExpr":"datum.value == 'c' ? 'Control background' : 'CL-12'","clipHeight":12,"rowPadding":2,"labelOffset":4,"padding":0}}}},
          {"data":{"values":[{}]},"mark":{"type":"point","opacity":0},"encoding":{
            "x":{"datum":1,"type":"quantitative","axis":{"orient":"bottom","title":null,"values":[2,3,4,5,6,7,8,9,20,30,40,50,60,70,80,90,200,300,400,500,600,700,800,900,2000,3000,4000,5000,6000,7000,8000,9000],"labels":false,"tickSize":-4}},
            "y":{"datum":0,"type":"quantitative","axis":{"orient":"left","title":null,"values":[17.5,35,52.5,70,105,122.5,140,157.5,192.5,210,227.5,245,280,297.5,315,332.5],"labels":false,"tickSize":2.5}}}},
          {"data":{"name":"titles"},"transform":[{"filter":"datum.p == 10"}],"mark":{"type":"text","font":"Liberation Serif","fontStyle":"italic","fontSize":12,"align":"right","baseline":"alphabetic","dx":-42.3,"dy":15,"color":"#000"},
           "encoding":{"x":{"datum":10000,"type":"quantitative","axis":null},"y":{"datum":350,"type":"quantitative","axis":null},"text":{"field":"it"}}},
          {"data":{"name":"titles"},"transform":[{"filter":"datum.p == 10"}],"mark":{"type":"text","font":"Liberation Serif","fontSize":12,"align":"right","baseline":"alphabetic","dx":-6,"dy":15,"color":"#000"},
           "encoding":{"x":{"datum":10000,"type":"quantitative","axis":null},"y":{"datum":350,"type":"quantitative","axis":null},"text":{"field":"rg"}}}
        ]}
      ]
    }
  ],
  "config": {
    "font": "Liberation Serif",
    "view": {"stroke": "#000", "strokeWidth": 1},
    "axis": {"labelFont": "Liberation Serif", "labelFontSize": 11, "labelColor": "#000", "tickColor": "#000", "tickWidth": 1, "domain": false, "grid": false, "labelFlush": false, "labelOverlap": false},
    "text": {"font": "Liberation Serif", "color": "#000"}
  }
}
